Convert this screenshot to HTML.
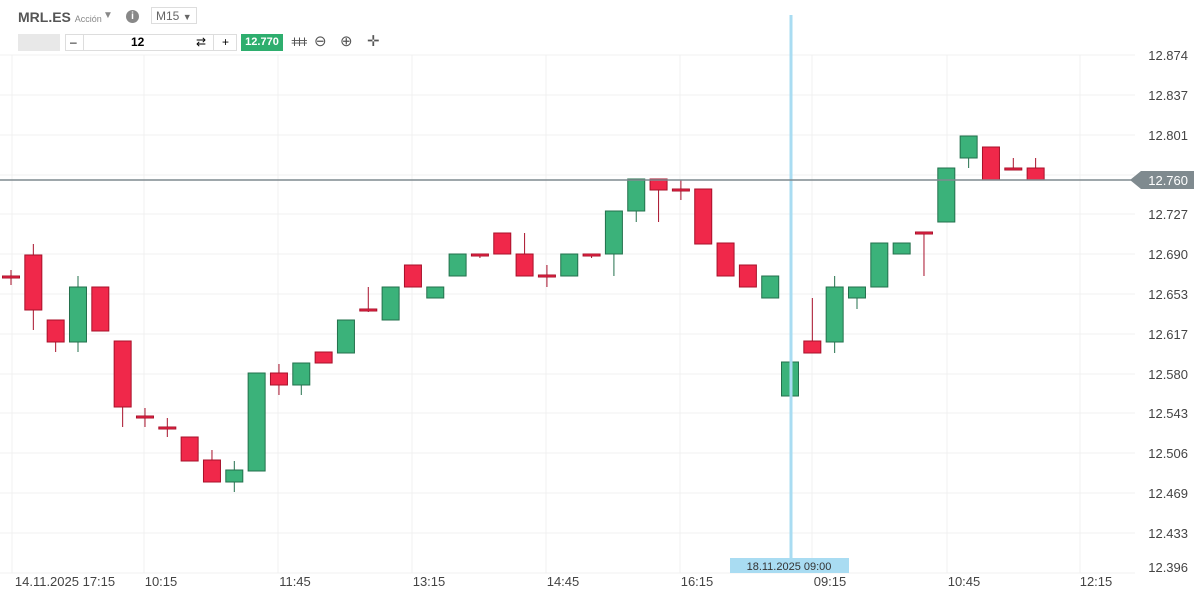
<!DOCTYPE html>
<html><head><meta charset="utf-8"><style>
body{margin:0;width:1200px;height:597px;background:#fff;font-family:"Liberation Sans",sans-serif;overflow:hidden;position:relative}
svg{position:absolute;left:0;top:0}
.t{position:absolute;font-size:12px;color:#333}
</style></head><body>
<svg id="s" width="1200" height="597" xmlns="http://www.w3.org/2000/svg"></svg>
<script>
const s=document.getElementById('s');let h='';
const ys=[55,95,135,175,214,254,294,334,374,413,453,493,533,573];
const yl=['12.874','12.837','12.801','','12.727','12.690','12.653','12.617','12.580','12.543','12.506','12.469','12.433'];
ys.forEach(y=>h+=`<line x1="0" x2="1135" y1="${y}" y2="${y}" stroke="#f0f0f0"/>`);
[12,144,278,412,546,680,812,947,1080].forEach(x=>h+=`<line x1="${x}" x2="${x}" y1="55" y2="573" stroke="#f0f0f0"/>`);
yl.forEach((t,i)=>{if(t)h+=`<text x="1188" y="${ys[i]+5}" font-size="13" fill="#444" text-anchor="end" font-family="Liberation Sans">${t}</text>`});
h+=`<text x="1188" y="572" font-size="13" fill="#444" text-anchor="end" font-family="Liberation Sans">12.396</text>`;
[['14.11.2025 17:15',65],['10:15',161],['11:45',295],['13:15',429],['14:45',563],['16:15',697],['09:15',830],['10:45',964],['12:15',1096]].forEach(a=>h+=`<text x="${a[1]}" y="586" font-size="13" fill="#444" text-anchor="middle" font-family="Liberation Sans">${a[0]}</text>`);
const c=[[276,277,270,285],[255,310,244,330],[320,342,320,352],[342,287,276,352],[287,331,287,331],[341,407,341,427],[416,418,408,427],[427,429,418,437],[437,461,437,461],[460,482,450,482],[482,470,461,492],[471,373,373,471],[373,385,364,395],[385,363,363,395],[352,363,352,363],[353,320,320,353],[309,311,287,312],[320,287,287,320],[265,287,265,287],[298,287,287,298],[276,254,254,276],[254,256,254,258],[233,254,233,254],[254,276,233,276],[275,277,265,287],[276,254,254,276],[254,256,254,258],[254,211,211,276],[211,179,179,222],[179,190,179,222],[189,191,180,200],[189,244,189,244],[243,276,243,276],[265,287,265,287],[298,276,276,298],[396,362,362,396],[341,353,298,353],[342,287,276,353],[298,287,287,309],[287,243,243,287],[254,243,243,254],[232,234,232,276],[222,168,168,222],[158,136,136,168],[147,180,147,180],[168,170,158,170],[168,180,158,180]];
c.forEach((k,i)=>{let x=11+22.33*i;if(i>=35)x=790+22.33*(i-35);const up=k[1]<k[0];const col=up?'#3bb27a':'#f0284a';const st=up?'#23704c':'#a8102a';
const t=Math.min(k[0],k[1]),b=Math.max(k[0],k[1]);
h+=`<line x1="${x}" x2="${x}" y1="${k[2]}" y2="${k[3]}" stroke="${st}"/>`;
h+=`<rect x="${x-8.5}" y="${t}" width="17" height="${Math.max(b-t,2)}" fill="${col}" stroke="${st}" stroke-width="1"/>`;});
h+=`<line x1="791" x2="791" y1="15" y2="558" stroke="#a9dcf2" stroke-width="3"/>`;
h+=`<rect x="730" y="558" width="119" height="15" fill="#a9dcf2"/><text x="789" y="570" font-size="11" fill="#333" text-anchor="middle" font-family="Liberation Sans">18.11.2025 09:00</text>`;
h+=`<line x1="0" x2="1135" y1="180" y2="180" stroke="#7f8a8f" stroke-width="1.5"/>`;
h+=`<polygon points="1130,180 1141,171 1194,171 1194,189 1141,189" fill="#7f8a8f"/><text x="1188" y="185" font-size="13" fill="#fff" text-anchor="end" font-family="Liberation Sans">12.760</text>`;
s.innerHTML=h;
</script>
<div class="t" style="left:18px;top:9px;font-size:14px;font-weight:bold;color:#555">MRL.ES <span style="font-size:9px;font-weight:normal;color:#888">Acción</span></div>
<div class="t" style="left:103px;top:10px;color:#888;font-size:10px">▼</div>
<div style="position:absolute;left:126px;top:10px;width:13px;height:13px;border-radius:50%;background:#888;color:#fff;font-size:10px;text-align:center;line-height:13px;font-weight:bold">i</div>
<div class="t" style="left:151px;top:7px;width:46px;height:17px;border:1px solid #ddd;font-size:12px;color:#666;line-height:17px;padding-left:4px;box-sizing:border-box">M15 <span style="font-size:9px">▼</span></div>
<div style="position:absolute;left:18px;top:34px;width:42px;height:17px;background:#e8e8e8"></div>
<div style="position:absolute;left:65px;top:34px;width:172px;height:17px;border:1px solid #ddd;box-sizing:border-box;font-size:12px;line-height:15px">
<span style="position:absolute;left:4px">–</span><span style="position:absolute;left:17px;top:0;height:15px;border-left:1px solid #ddd"></span><span style="position:absolute;left:65px;font-weight:bold">12</span><span style="position:absolute;left:130px">⇄</span><span style="position:absolute;left:147px;top:0;height:15px;border-left:1px solid #ddd"></span><span style="position:absolute;left:156px">+</span></div>
<div style="position:absolute;left:241px;top:34px;width:42px;height:17px;background:#2eae6e;color:#fff;font-size:11px;font-weight:bold;text-align:center;line-height:17px">12.770</div>
<div class="t" style="left:291px;top:35px;font-size:12px;color:#555;letter-spacing:-2px;width:16px;overflow:hidden">ǂǂǂ</div>
<div class="t" style="left:314px;top:32px;font-size:15px;color:#555">⊖</div>
<div class="t" style="left:340px;top:32px;font-size:15px;color:#555">⊕</div>
<div class="t" style="left:367px;top:32px;font-size:15px;color:#555">✛</div>
</body></html>
